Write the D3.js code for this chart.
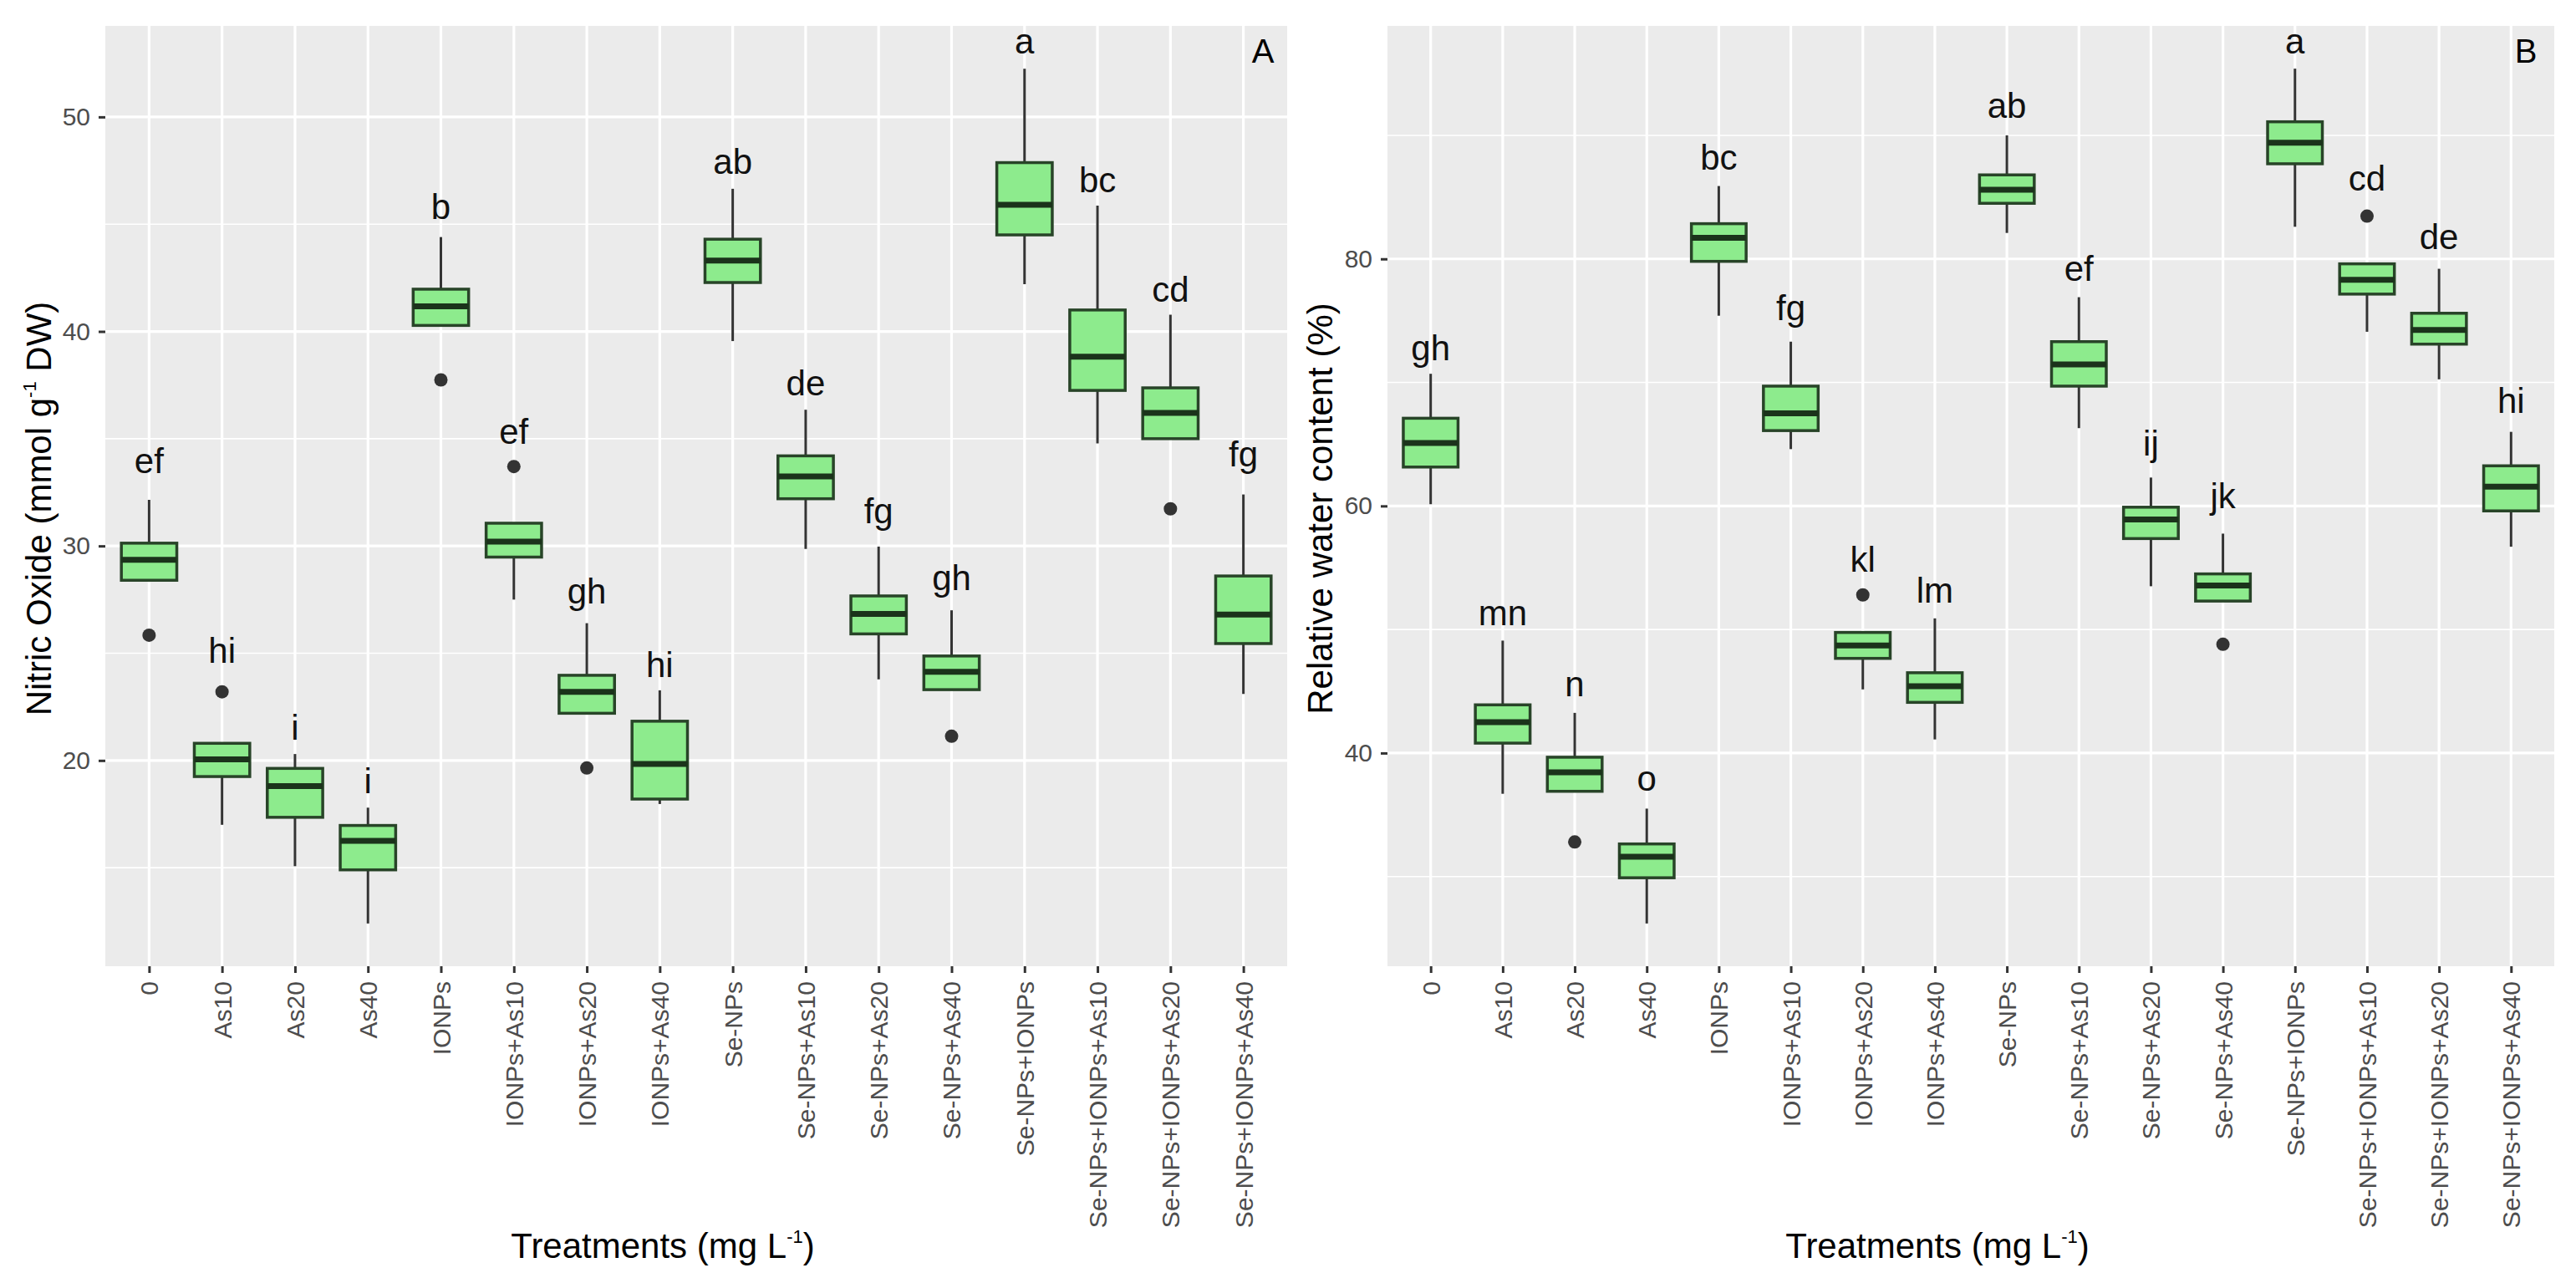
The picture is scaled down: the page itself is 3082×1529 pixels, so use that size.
<!DOCTYPE html>
<html>
<head>
<meta charset="utf-8">
<script src="https://cdn.jsdelivr.net/npm/d3@7"></script>
<style>
  body { margin: 0; background: #fff; }
  text { font-family: "Liberation Sans", Arial, sans-serif; }
</style>
</head>
<body>
<svg id="fig" width="3082" height="1529"></svg>
<script>
// treatments on the x axis (same for both panels)
var treatments = ["0", "As10", "As20", "As40", "IONPs", "IONPs+As10", "IONPs+As20", "IONPs+As40",
    "Se-NPs", "Se-NPs+As10", "Se-NPs+As20", "Se-NPs+As40", "Se-NPs+IONPs",
    "Se-NPs+IONPs+As10", "Se-NPs+IONPs+As20", "Se-NPs+IONPs+As40"];

// Panel A - Nitric oxide
var noLow    = [28.4, 17.0, 15.07, 12.4, 40.28, 27.5, 22.2, 17.97, 39.55, 29.86, 23.78, 23.3, 42.2, 34.78, 35.0, 23.1];
var noQ1     = [28.4, 19.25, 17.35, 14.9, 40.28, 29.48, 22.2, 18.2, 42.28, 32.2, 25.9, 23.3, 44.5, 37.25, 35.0, 25.45];
var noMedian = [29.35, 20.05, 18.8, 16.25, 41.17, 30.2, 23.2, 19.84, 43.3, 33.24, 26.83, 24.13, 45.9, 38.82, 36.2, 26.8];
var noQ3     = [30.13, 20.8, 19.63, 16.97, 41.97, 31.06, 23.97, 21.83, 44.3, 34.2, 27.67, 24.87, 47.87, 41.0, 37.37, 28.6];
var noHigh   = [32.15, 20.8, 20.3, 17.8, 44.4, 31.06, 26.4, 23.27, 46.65, 36.35, 29.97, 27.0, 52.25, 45.87, 40.78, 32.4];
var noOutliers = [[25.84], [23.2], [], [], [37.74], [33.7], [19.65], [], [], [], [], [21.13], [], [], [31.73], []];
var noLetters = ["ef", "hi", "i", "i", "b", "ef", "gh", "hi", "ab", "de", "fg", "gh", "a", "bc", "cd", "fg"];
var noLetterY = [33.4, 24.56, 20.95, 18.48, 45.24, 34.76, 27.32, 23.9, 47.35, 37.02, 31.06, 27.95, 52.96, 46.49, 41.39, 33.71];
var noTicks = [20, 30, 40, 50];

// Panel B - Relative water content
var rwcLow    = [60.14, 36.7, 36.9, 26.2, 75.4, 64.6, 45.15, 41.1, 82.1, 66.3, 53.5, 52.3, 82.6, 74.1, 70.25, 56.7];
var rwcQ1     = [63.15, 40.8, 36.9, 29.9, 79.8, 66.1, 47.66, 44.1, 84.5, 69.7, 57.36, 52.3, 87.7, 77.15, 73.1, 59.6];
var rwcMedian = [65.1, 42.5, 38.44, 31.6, 81.7, 67.5, 48.7, 45.4, 85.6, 71.45, 58.9, 53.56, 89.4, 78.3, 74.24, 61.56];
var rwcQ3     = [67.1, 43.9, 39.66, 32.64, 82.85, 69.7, 49.76, 46.5, 86.8, 73.3, 59.9, 54.5, 91.1, 79.6, 75.6, 63.25];
var rwcHigh   = [70.7, 49.1, 43.25, 35.5, 85.9, 73.3, 49.76, 50.9, 90.0, 76.9, 62.3, 57.76, 95.4, 79.6, 79.2, 66.0];
var rwcOutliers = [[], [], [32.8], [], [], [], [52.8], [], [], [], [], [48.8], [], [83.46], [], []];
var rwcLetters = ["gh", "mn", "n", "o", "bc", "fg", "kl", "lm", "ab", "ef", "ij", "jk", "a", "cd", "de", "hi"];
var rwcLetterY = [71.8, 50.37, 44.6, 36.95, 87.19, 75.05, 54.71, 52.14, 91.39, 78.24, 64.07, 59.8, 96.6, 85.5, 80.8, 67.5];
var rwcTicks = [40, 60, 80];

var svg = d3.select("#fig");
var panelTop = 31, panelBottom = 1156;

drawPanel({
    left: 126, right: 1540,
    low: noLow, q1: noQ1, median: noMedian, q3: noQ3, high: noHigh,
    outliers: noOutliers, letters: noLetters, letterY: noLetterY, ticks: noTicks,
    yTitle: ["Nitric Oxide (mmol g", "-1", " DW)"], yTitleX: 61,
    tag: "A", tagX: 1511
});

drawPanel({
    left: 1660, right: 3056,
    low: rwcLow, q1: rwcQ1, median: rwcMedian, q3: rwcQ3, high: rwcHigh,
    outliers: rwcOutliers, letters: rwcLetters, letterY: rwcLetterY, ticks: rwcTicks,
    yTitle: ["Relative water content (%)"], yTitleX: 1594,
    tag: "B", tagX: 3022
});

function drawPanel(p) {
    var g = svg.append("g");

    var x = d3.scalePoint().domain(treatments).range([p.left, p.right]).padding(0.6);

    // ggplot style 5% expansion around whiskers and outliers
    var allVals = p.low.concat(p.high, d3.merge(p.outliers));
    var lo = d3.min(allVals), hi = d3.max(allVals);
    var pad = (hi - lo) * 0.05;
    var y = d3.scaleLinear().domain([lo - pad, hi + pad]).range([panelBottom, panelTop]);

    var boxW = x.step() * 0.76;

    g.append("rect")
        .attr("x", p.left).attr("y", panelTop)
        .attr("width", p.right - p.left).attr("height", panelBottom - panelTop)
        .attr("fill", "#ebebeb");

    // minor grid lines halfway between the major ticks
    var step = p.ticks[1] - p.ticks[0];
    var minor = [];
    for (var v = p.ticks[0] - step / 2; v < y.domain()[1]; v += step) {
        if (v > y.domain()[0]) minor.push(v);
    }
    g.selectAll(".minor").data(minor).enter().append("line")
        .attr("x1", p.left).attr("x2", p.right)
        .attr("y1", function (d) { return y(d); }).attr("y2", function (d) { return y(d); })
        .attr("stroke", "#fff").attr("stroke-width", 1.6);

    g.selectAll(".majorY").data(p.ticks).enter().append("line")
        .attr("x1", p.left).attr("x2", p.right)
        .attr("y1", function (d) { return y(d); }).attr("y2", function (d) { return y(d); })
        .attr("stroke", "#fff").attr("stroke-width", 3.2);

    g.selectAll(".majorX").data(treatments).enter().append("line")
        .attr("x1", function (d) { return x(d); }).attr("x2", function (d) { return x(d); })
        .attr("y1", panelTop).attr("y2", panelBottom)
        .attr("stroke", "#fff").attr("stroke-width", 3.2);

    var idx = d3.range(treatments.length);

    // whiskers
    g.selectAll(".whisker").data(idx).enter().append("line")
        .attr("x1", function (i) { return x(treatments[i]); })
        .attr("x2", function (i) { return x(treatments[i]); })
        .attr("y1", function (i) { return y(p.low[i]); })
        .attr("y2", function (i) { return y(p.high[i]); })
        .attr("stroke", "#333").attr("stroke-width", 3);

    // boxes
    g.selectAll(".box").data(idx).enter().append("rect")
        .attr("x", function (i) { return x(treatments[i]) - boxW / 2; })
        .attr("y", function (i) { return y(p.q3[i]); })
        .attr("width", boxW)
        .attr("height", function (i) { return y(p.q1[i]) - y(p.q3[i]); })
        .attr("fill", "#8deb8d")
        .attr("stroke", "#284428").attr("stroke-width", 3.5);

    g.selectAll(".median").data(idx).enter().append("line")
        .attr("x1", function (i) { return x(treatments[i]) - boxW / 2; })
        .attr("x2", function (i) { return x(treatments[i]) + boxW / 2; })
        .attr("y1", function (i) { return y(p.median[i]); })
        .attr("y2", function (i) { return y(p.median[i]); })
        .attr("stroke", "#1b331b").attr("stroke-width", 7);

    // outliers
    var pts = [];
    p.outliers.forEach(function (list, i) {
        list.forEach(function (v) { pts.push({t: treatments[i], v: v}); });
    });
    g.selectAll(".outlier").data(pts).enter().append("circle")
        .attr("cx", function (d) { return x(d.t); })
        .attr("cy", function (d) { return y(d.v); })
        .attr("r", 8)
        .attr("fill", "#333");

    // significance letters
    g.selectAll(".letter").data(idx).enter().append("text")
        .attr("x", function (i) { return x(treatments[i]); })
        .attr("y", function (i) { return y(p.letterY[i]); })
        .attr("text-anchor", "middle")
        .attr("font-size", 42)
        .attr("fill", "#111")
        .text(function (i) { return p.letters[i]; });

    g.append("text")
        .attr("x", p.tagX).attr("y", 75)
        .attr("text-anchor", "middle")
        .attr("font-size", 40)
        .text(p.tag);

    // y axis
    var yAxis = g.append("g")
        .attr("transform", "translate(" + p.left + ",0)")
        .call(d3.axisLeft(y).tickValues(p.ticks).tickSize(8).tickPadding(10).tickFormat(d3.format("d")));
    yAxis.select(".domain").remove();
    yAxis.selectAll(".tick line").attr("stroke", "#333").attr("stroke-width", 3);
    yAxis.selectAll(".tick text").attr("fill", "#4d4d4d").attr("font-size", 30)
        .style("font-family", "Liberation Sans, Arial, sans-serif");

    // x axis
    var xAxis = g.append("g")
        .attr("transform", "translate(0," + panelBottom + ")")
        .call(d3.axisBottom(x).tickSize(8).tickPadding(10));
    xAxis.select(".domain").remove();
    xAxis.selectAll(".tick line").attr("stroke", "#333").attr("stroke-width", 3);
    xAxis.selectAll(".tick text")
        .attr("fill", "#4d4d4d").attr("font-size", 30)
        .style("font-family", "Liberation Sans, Arial, sans-serif")
        .attr("text-anchor", "end")
        .attr("transform", "rotate(-90)")
        .attr("x", -18).attr("y", 0).attr("dy", "0.35em");

    // axis titles
    var cx = (p.left + p.right) / 2 - 40;
    var xt = g.append("text")
        .attr("x", cx).attr("y", 1505)
        .attr("text-anchor", "middle")
        .attr("font-size", 42);
    xt.append("tspan").text("Treatments (mg L");
    xt.append("tspan").attr("font-size", 22).attr("dy", -18).text("-1");
    xt.append("tspan").attr("dy", 18).text(")");

    var cy = (panelTop + panelBottom) / 2 + 15;
    var yt = g.append("text")
        .attr("transform", "translate(" + p.yTitleX + "," + cy + ") rotate(-90)")
        .attr("text-anchor", "middle")
        .attr("font-size", 42);
    yt.append("tspan").text(p.yTitle[0]);
    if (p.yTitle.length > 1) {
        yt.append("tspan").attr("font-size", 22).attr("dy", -18).text(p.yTitle[1]);
        yt.append("tspan").attr("dy", 18).text(p.yTitle[2]);
    }
}
</script>
</body>
</html>
